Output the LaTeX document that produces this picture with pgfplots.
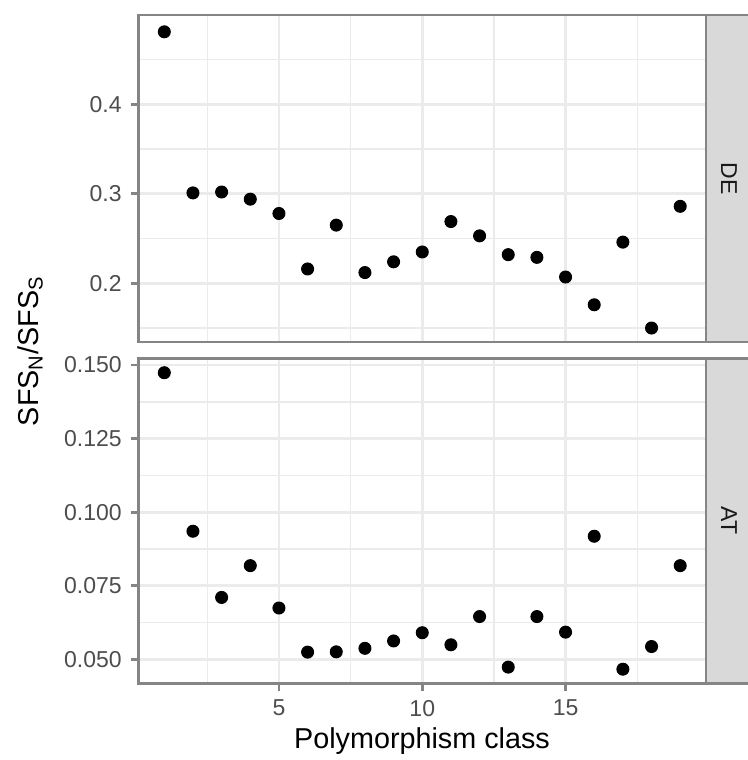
\documentclass[border=0pt]{standalone}
\usepackage{fontspec}
\setmainfont{Liberation Sans}
\usepackage{pgfplots}
\pgfplotsset{compat=1.18}
\definecolor{gridc}{HTML}{EBEBEB}
\definecolor{bordc}{HTML}{858585}
\definecolor{tickc}{HTML}{4D4D4D}
\definecolor{stripc}{HTML}{D9D9D9}
\pgfplotsset{panel/.style={
  scale only axis, width=227pt, anchor=north west,
  xmin=0.1, xmax=19.9,
  xtick={5,10,15}, minor xtick={2.5,7.5,12.5,17.5},
  grid=both,
  major grid style={gridc, line width=1.1pt},
  minor grid style={gridc, line width=0.55pt},
  axis line style={bordc, line width=1.1pt},
  tick style={bordc, line width=1.1pt},
  tick align=outside,
  major tick length=3.2pt, minor tick length=0pt,
  ytick pos=left, xtick pos=bottom,
  ticklabel style={font=\fontsize{9.2}{11}\selectfont, text=tickc},
  /pgf/number format/assume math mode=true,
  yticklabel style={/pgf/number format/fixed, /pgf/number format/fixed zerofill},
}}
\begin{document}
\begin{tikzpicture}
\useasboundingbox (0pt,0pt) rectangle (298.8pt,-304pt);
% top panel DE
\begin{axis}[panel, at={(55.4pt,-6pt)}, height=130.8pt,
  ymin=0.1344, ymax=0.4998, ytick={0.2,0.3,0.4}, minor ytick={0.15,0.25,0.35,0.45},
  yticklabel style={/pgf/number format/precision=1}, xticklabels={}, xtick style={draw=none}]
\addplot[only marks, mark=*, mark size=2.4pt, black] table {
x y
1 0.481
2 0.301
3 0.302
4 0.294
5 0.278
6 0.216
7 0.265
8 0.212
9 0.224
10 0.235
11 0.269
12 0.253
13 0.232
14 0.229
15 0.207
16 0.176
17 0.246
18 0.150
19 0.286
};
\end{axis}
% bottom panel AT
\begin{axis}[panel, at={(55.4pt,-143.32pt)}, height=130pt,
  ymin=0.0418, ymax=0.1523, ytick={0.05,0.075,0.1,0.125,0.15}, minor ytick={0.0625,0.0875,0.1125,0.1375},
  yticklabel style={/pgf/number format/precision=3}, xticklabels={5,10,15}]
\addplot[only marks, mark=*, mark size=2.4pt, black] table {
x y
1 0.1474
2 0.0935
3 0.0710
4 0.0818
5 0.0674
6 0.0524
7 0.0525
8 0.0537
9 0.0562
10 0.0590
11 0.0549
12 0.0645
13 0.0473
14 0.0645
15 0.0592
16 0.0918
17 0.0466
18 0.0543
19 0.0818
};
\end{axis}
% strips
\fill[stripc] (282.4pt,-6pt) rectangle (303pt,-136.8pt);
\fill[stripc] (282.4pt,-143.32pt) rectangle (303pt,-273.32pt);
\draw[bordc, line width=1.1pt] (303pt,-6pt) -- (282.4pt,-6pt) -- (282.4pt,-136.8pt) -- (303pt,-136.8pt);
\draw[bordc, line width=1.1pt] (303pt,-143.32pt) -- (282.4pt,-143.32pt) -- (282.4pt,-273.32pt) -- (303pt,-273.32pt);
\node[rotate=-90, font=\fontsize{9.2}{11}\selectfont, text=black!90] at (291.6pt,-71.4pt) {DE};
\node[rotate=-90, font=\fontsize{9.2}{11}\selectfont, text=black!90] at (291.6pt,-208.3pt) {AT};
% axis titles
\node[rotate=90, font=\fontsize{11.5}{14}\selectfont] at (12pt,-140.4pt) {SFS\textsubscript{N}/SFS\textsubscript{S}};
\node[anchor=base, font=\fontsize{11.5}{14}\selectfont] at (168.8pt,-299.2pt) {Polymorphism class};
\end{tikzpicture}
\end{document}
